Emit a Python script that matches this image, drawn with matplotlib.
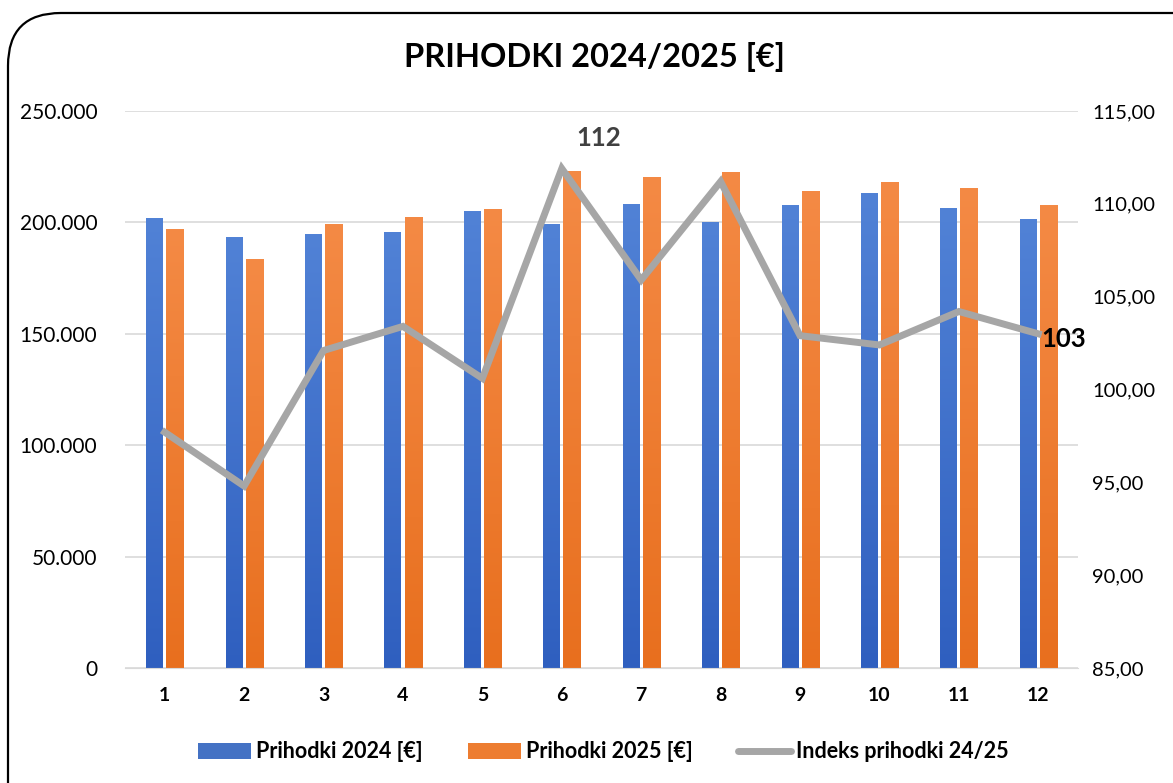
import numpy as np
import matplotlib
matplotlib.use('Agg')
import matplotlib.pyplot as plt
from matplotlib.colors import LinearSegmentedColormap
from matplotlib.patches import FancyBboxPatch, Patch
from matplotlib.lines import Line2D
from matplotlib.ticker import FuncFormatter
from matplotlib.font_manager import FontProperties

plt.rcParams['font.family'] = ['Lato', 'DejaVu Sans']

months = list(range(1, 13))
prihodki_2024 = [201900, 193400, 194700, 195800, 205000, 199200, 208100, 200300, 207800, 213100, 206300, 201500]
prihodki_2025 = [197000, 183400, 199200, 202600, 206200, 223200, 220500, 222800, 214200, 218300, 215300, 207800]
indeks = [97.7, 94.8, 102.1, 103.4, 100.6, 111.9, 105.9, 111.2, 102.9, 102.4, 104.2, 103.0]

title = 'PRIHODKI 2024/2025 [€]'
labels = ['Prihodki 2024 [€]', 'Prihodki 2025 [€]', 'Indeks prihodki 24/25']

blue_top, blue_bot = '#5182d6', '#2f5fbf'
orange_top, orange_bot = '#f48a45', '#e86f1e'
grey = '#a6a6a6'

fig = plt.figure(figsize=(11.73, 7.83), dpi=100)

# rounded frame round the whole chart
frame = FancyBboxPatch((8 / 1173, -0.2), 1.2, 1.2 - 13 / 783,
                       boxstyle='round,pad=0,rounding_size=0.045',
                       transform=fig.transFigure, fill=False, edgecolor='black',
                       linewidth=1.6, mutation_aspect=1173 / 783)
fig.patches.append(frame)

ax = fig.add_axes([125 / 1173, 115 / 783, 953 / 1173, 557 / 783])
ax2 = ax.twinx()


def grad_bars(axis, xs, hs, w, c_top, c_bot):
    cmap = LinearSegmentedColormap.from_list('g', [c_bot, c_top])
    grad = np.linspace(0, 1, 256).reshape(-1, 1)
    bars = axis.bar(xs, hs, w, color='none', edgecolor='none', zorder=2)
    for b in bars:
        im = axis.imshow(grad, extent=[b.get_x(), b.get_x() + b.get_width(), 0, b.get_height()],
                         origin='lower', aspect='auto', cmap=cmap, zorder=2)
        im.set_clip_path(b)
    return bars


x = np.array(months)
grad_bars(ax, x - 0.13, prihodki_2024, 0.205, blue_top, blue_bot)
grad_bars(ax, x + 0.13, prihodki_2025, 0.22, orange_top, orange_bot)

ax.set_xlim(0.5, 12.5)
ax.set_ylim(0, 250000)
ax.set_yticks(np.arange(0, 250001, 50000))
ax.yaxis.set_major_formatter(FuncFormatter(lambda v, p: f'{int(v):,}'.replace(',', '.')))
ax.grid(axis='y', color='#d9d9d9', linewidth=1.2, zorder=0)
ax.set_axisbelow(True)
ax.set_xticks(months)
ax.set_xticklabels([str(m) for m in months], fontweight='bold', fontsize=14)
ax.tick_params(axis='y', length=0, pad=20, labelsize=15)
ax.tick_params(axis='x', length=0, pad=14)
for s in ['top', 'left', 'right']:
    ax.spines[s].set_visible(False)
ax.spines['bottom'].set_color('#d9d9d9')

ax2.plot(x, indeks, color=grey, linewidth=5, solid_joinstyle='miter', zorder=3)
ax2.set_ylim(85, 115)
ax2.set_yticks(np.arange(85, 115.1, 5))
ax2.yaxis.set_major_formatter(FuncFormatter(lambda v, p: f'{v:.2f}'.replace('.', ',')))
ax2.tick_params(axis='y', length=0, pad=10, labelsize=14.5)
for s in ['top', 'left', 'right', 'bottom']:
    ax2.spines[s].set_visible(False)

ax2.annotate(f'{indeks[5]:.0f}', (x[5], indeks[5]), xytext=(37, 31), textcoords='offset pixels',
             ha='center', va='center', fontsize=18.5, fontweight='bold', color='#404040')
ax2.annotate(f'{indeks[11]:.0f}', (x[11], indeks[11]), xytext=(3, -5), textcoords='offset pixels',
             ha='left', va='center', fontsize=18.5, fontweight='bold', color='black')

fig.text(595 / 1173, 1 - 57 / 783, title, ha='center', va='center', fontsize=23.5, fontweight='bold')

handles = [Patch(facecolor='#4472c4'), Patch(facecolor='#ed7d31'),
           Line2D([0], [0], color=grey, linewidth=5, solid_capstyle='round')]
fig.legend(handles, labels, loc='center', bbox_to_anchor=(603 / 1173, 1 - 752 / 783), ncol=3,
           frameon=False, prop=FontProperties(family=['Lato', 'DejaVu Sans'], weight='bold', size=15.5),
           handlelength=2.5, handletextpad=0.2, columnspacing=2.1)

fig.savefig('out.png', dpi=100)
